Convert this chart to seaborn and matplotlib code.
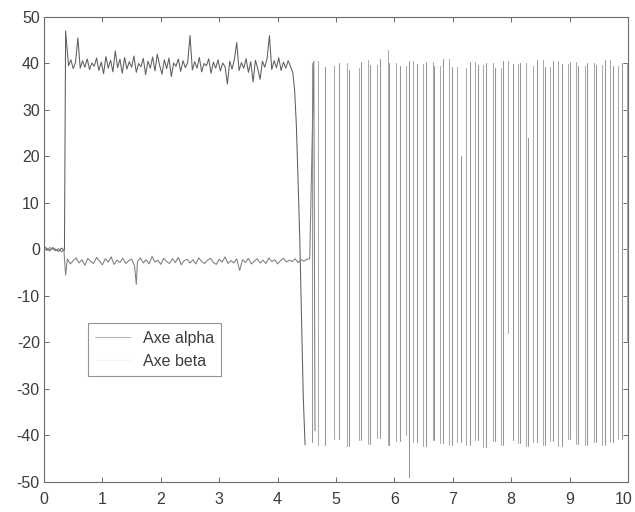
import numpy as np
import pandas as pd
import matplotlib
matplotlib.use("Agg")
import matplotlib.pyplot as plt
import matplotlib.transforms as mtransforms
import seaborn as sns

# ---------------- data ----------------
series_names = ["Axe alpha", "Axe beta"]

alpha_t = [0.00, 0.05, 0.10, 0.15, 0.20, 0.25, 0.30, 0.35, 0.37,
           0.42, 0.46, 0.50, 0.54, 0.58, 0.62, 0.66, 0.70, 0.74, 0.78,
           0.82, 0.86, 0.90, 0.94, 0.98, 1.02, 1.06, 1.10, 1.14, 1.18,
           1.22, 1.26, 1.30, 1.34, 1.38, 1.42, 1.46, 1.50, 1.54, 1.58,
           1.62, 1.66, 1.70, 1.74, 1.78, 1.82, 1.86, 1.90, 1.94, 1.98,
           2.02, 2.06, 2.10, 2.14, 2.18, 2.22, 2.26, 2.30, 2.34, 2.38,
           2.42, 2.46, 2.50, 2.54, 2.58, 2.62, 2.66, 2.70, 2.74, 2.78,
           2.82, 2.86, 2.90, 2.94, 2.98, 3.02, 3.06, 3.10, 3.14, 3.18,
           3.22, 3.26, 3.30, 3.34, 3.38, 3.42, 3.46, 3.50, 3.54, 3.58,
           3.62, 3.66, 3.70, 3.74, 3.78, 3.82, 3.86, 3.90, 3.94, 3.98,
           4.02, 4.06, 4.10, 4.14, 4.18, 4.22,
           4.26, 4.29, 4.32, 4.35, 4.38, 4.41, 4.44, 4.47]
alpha_v = [0.6, 0.2, -0.3, 0.4, 0.0, -0.4, 0.3, -0.2, 47.0,
           39.5, 40.8, 38.9, 40.2, 45.5, 39.0, 40.6, 39.2, 41.0, 38.7,
           40.1, 39.4, 41.2, 38.5, 40.3, 37.8, 41.5, 39.0, 40.7, 38.2,
           42.7, 39.1, 40.9, 37.9, 41.3, 38.8, 40.4, 39.2, 41.6, 38.1,
           40.0, 39.3, 41.1, 37.6, 40.5, 39.0, 41.4, 38.4, 42.0, 39.6,
           37.7, 40.8, 38.9, 41.2, 37.2, 40.1, 39.4, 41.0, 38.3, 40.6,
           39.1, 40.2, 46.0, 38.6, 40.4, 39.0, 41.3, 38.2, 40.0, 39.5,
           41.0, 37.9, 40.3, 39.0, 40.8, 38.4, 40.1, 39.3, 35.6, 40.5,
           38.8, 40.9, 44.5, 38.5, 40.2, 39.0, 41.0, 38.1, 40.4, 36.0,
           40.7, 38.9, 36.6, 40.5, 39.2, 41.1, 46.0, 38.7, 40.6, 39.1,
           41.2, 38.5, 40.3, 39.0, 40.6, 39.4,
           38.0, 34.5, 27.0, 15.0, 2.0, -15.0, -32.0, -42.0]

beta_t = [0.00, 0.05, 0.10, 0.15, 0.20, 0.25, 0.30, 0.34, 0.37,
          0.40, 0.45, 0.50, 0.55, 0.60, 0.65, 0.70, 0.75, 0.80, 0.85,
          0.90, 0.95, 1.00, 1.05, 1.10, 1.15, 1.20, 1.25, 1.30, 1.35,
          1.40, 1.45, 1.50, 1.55, 1.58, 1.60, 1.65, 1.70, 1.75, 1.80,
          1.85, 1.90, 1.95, 2.00, 2.05, 2.10, 2.15, 2.20, 2.25, 2.30,
          2.35, 2.40, 2.45, 2.50, 2.55, 2.60, 2.65, 2.70, 2.75, 2.80,
          2.85, 2.90, 2.95, 3.00, 3.05, 3.10, 3.15, 3.20, 3.25, 3.30,
          3.35, 3.40, 3.45, 3.50, 3.55, 3.60, 3.65, 3.70, 3.75, 3.80,
          3.85, 3.90, 3.95, 4.00, 4.05, 4.10, 4.15, 4.20, 4.25, 4.30,
          4.35, 4.40, 4.45, 4.50, 4.55, 4.62, 4.64]
beta_v = [0.3, -0.2, 0.4, 0.1, -0.3, 0.2, -0.5, 0.0, -5.5,
          -2.0, -3.1, -2.4, -1.8, -2.9, -2.2, -3.4, -1.9, -2.6, -3.0,
          -1.7, -2.5, -3.3, -2.0, -2.7, -1.6, -3.2, -2.3, -2.8, -1.9,
          -3.0, -2.4, -2.1, -3.5, -7.5, -2.6, -1.8, -2.9, -2.2, -3.1,
          -1.5, -2.7, -2.3, -3.2, -1.9, -2.6, -3.0, -2.0, -2.8, -1.7,
          -3.3, -2.4, -2.1, -2.9, -2.2, -3.1, -1.8, -2.6, -3.0, -2.3,
          -1.9, -2.8, -3.2, -2.1, -2.7, -1.6, -3.0, -2.4, -2.9, -2.0,
          -4.5, -2.2, -2.8, -1.9, -3.1, -2.5, -2.0, -2.9, -2.3, -3.0,
          -1.8, -2.6, -2.2, -3.1, -2.4, -1.9, -2.7, -2.3, -2.6, -2.0,
          -2.8, -2.2, -2.5, -2.1, -2.0, 40.5, -39.0]

# fast switching after t = 4.6: each switch is a near-vertical sweep
sweep_t = [4.59, 4.69, 4.81, 4.97, 5.05, 5.19, 5.22, 5.39, 5.43, 5.55,
           5.58, 5.70, 5.75, 5.89, 5.91, 6.03, 6.10, 6.20, 6.25, 6.32,
           6.39, 6.49, 6.54, 6.66, 6.68, 6.78, 6.83, 6.93, 6.99, 7.07,
           7.14, 7.22, 7.29, 7.38, 7.43, 7.52, 7.57, 7.69, 7.72, 7.83,
           7.86, 7.95, 8.03, 8.12, 8.15, 8.25, 8.29, 8.37, 8.44, 8.54,
           8.58, 8.66, 8.72, 8.80, 8.87, 8.97, 9.01, 9.11, 9.14, 9.26,
           9.30, 9.42, 9.45, 9.55, 9.61, 9.69, 9.74, 9.83, 9.90, 9.98]
sweep_hi = [40.0, 40.5, 39.2, 39.5, 40.1, 40.2, 38.5, 39.0, 40.3, 40.8,
            39.6, 39.6, 41.0, 43.0, 40.1, 40.1, 39.4, 39.4, 40.6, 40.6,
            39.8, 39.8, 40.3, 40.3, 39.5, 39.5, 40.9, 40.9, 39.2, 39.2,
            20.0, 39.0, 40.4, 40.4, 39.7, 39.7, 40.2, 40.2, 39.1, 39.1,
            40.5, 40.5, 39.8, 39.8, 40.0, 40.0, 24.0, 39.5, 40.7, 40.7,
            39.3, 39.3, 40.6, 40.6, 39.9, 39.9, 40.4, 40.4, 39.5, 39.5,
            40.2, 40.2, 39.6, 39.6, 40.8, 40.8, 39.4, 39.4, 40.1, 40.1]
sweep_lo = [-41.5, -42.0, -42.0, -40.8, -40.8, -42.3, -42.3, -41.0, -41.0, -41.8,
            -41.8, -40.5, -40.5, -42.0, -42.0, -41.2, -41.2, -40.0, -49.0, -41.5,
            -41.5, -42.2, -42.2, -40.9, -40.9, -41.7, -41.7, -42.0, -42.0, -41.3,
            -41.3, -42.1, -42.1, -41.0, -41.0, -42.4, -42.4, -41.1, -41.1, -42.0,
            -42.0, -18.0, -41.0, -41.6, -41.6, -42.2, -42.2, -41.4, -41.4, -42.0,
            -42.0, -41.2, -41.2, -42.3, -42.3, -40.8, -40.8, -41.9, -41.9, -42.1,
            -42.1, -41.3, -41.3, -42.0, -42.0, -41.5, -41.5, -40.7, -40.7, -20.0]

x_ticks = [0, 1, 2, 3, 4, 5, 6, 7, 8, 9, 10]
y_ticks = [-50, -40, -30, -20, -10, 0, 10, 20, 30, 40, 50]

# ---------------- build long-form tables ----------------
rows = []
for t, v in zip(alpha_t, alpha_v):
    rows.append((t, v, series_names[0], "a0"))
for t, v in zip(beta_t, beta_v):
    rows.append((t, v, series_names[1], "b0"))
main_df = pd.DataFrame(rows, columns=["t", "v", "series", "unit"])

srows = []
for k, (t, hi, lo) in enumerate(zip(sweep_t, sweep_hi, sweep_lo)):
    name = series_names[k % 2]
    srows.append((t, hi, name, f"s{k}"))
    srows.append((t, lo, name, f"s{k}"))
sweep_df = pd.DataFrame(srows, columns=["t", "v", "series", "unit"])

# ---------------- styling ----------------
sns.set_theme(style="ticks")
plt.rcParams["font.family"] = ["Liberation Sans", "DejaVu Sans"]
plt.rcParams["axes.unicode_minus"] = False

fig = plt.figure(figsize=(6.35, 5.12), dpi=100)
ax = fig.add_axes([0.0693, 0.0586, 0.9197, 0.9082])

sns.lineplot(data=sweep_df, x="t", y="v", hue="series", units="unit",
             estimator=None, sort=False, hue_order=series_names,
             palette={"Axe alpha": "#969696", "Axe beta": "#ababab"},
             linewidth=0.75, legend=False, ax=ax)
sns.lineplot(data=main_df, x="t", y="v", hue="series", units="unit",
             estimator=None, sort=False, hue_order=series_names,
             palette={"Axe alpha": "#5e5e5e", "Axe beta": "#7c7c7c"},
             linewidth=0.75, ax=ax)

ax.set_xlim(0, 10)
ax.set_ylim(-50, 50)
ax.set_xticks(x_ticks)
ax.set_yticks(y_ticks)
ax.set_xlabel("")
ax.set_ylabel("")
for s in ax.spines.values():
    s.set_visible(True)
    s.set_color("#6a6a6a")
    s.set_linewidth(0.8)
ax.tick_params(axis="both", direction="in", length=3.5, width=0.7,
               colors="#6a6a6a", labelcolor="#3c3c3c", labelsize=11.5,
               top=True, right=True)
ax.tick_params(axis="x", pad=7)
ax.tick_params(axis="y", pad=3)

# nudge the last x label so it stays inside the canvas
last = ax.get_xticklabels()[-1]
last.set_transform(last.get_transform() +
                   mtransforms.ScaledTranslation(-4 / 100, 0, fig.dpi_scale_trans))

sns.move_legend(ax, "upper left", bbox_to_anchor=(0.0753, 0.341),
                title=None, frameon=True, fancybox=False, fontsize=11.5,
                handlelength=2.2, handletextpad=0.8, labelspacing=0.5,
                borderpad=0.45, borderaxespad=0.0)
leg = ax.get_legend()
leg.get_frame().set_edgecolor("#7a7a7a")
leg.get_frame().set_linewidth(0.8)
for txt in leg.get_texts():
    txt.set_color("#3c3c3c")
hs = leg.legend_handles
hs[0].set_color("#b0b0b0")
hs[1].set_color("#f4f4f4")

fig.savefig("out.png", dpi=100)
